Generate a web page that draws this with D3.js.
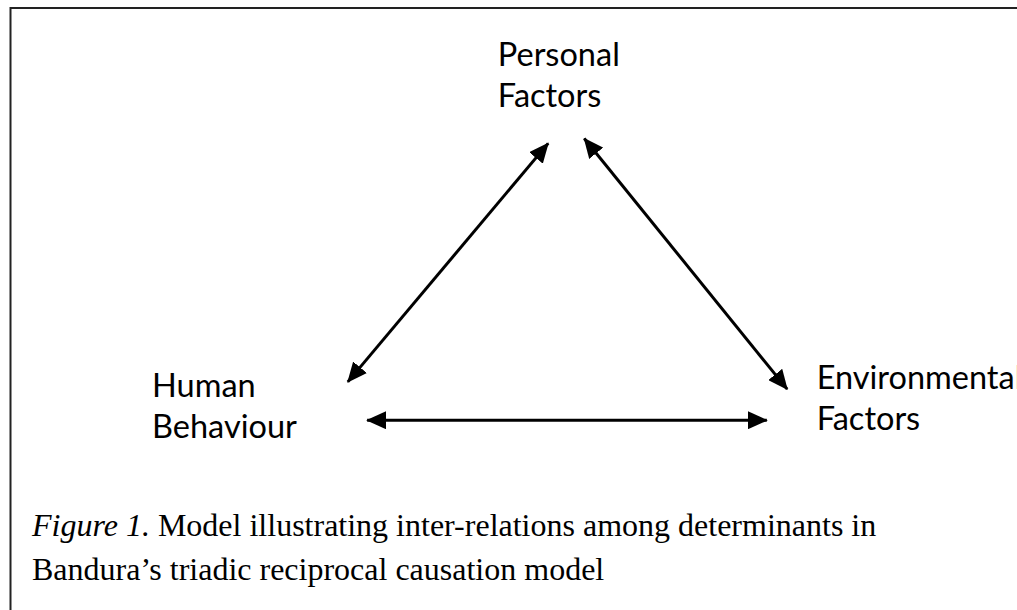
<!DOCTYPE html>
<html>
<head>
<meta charset="utf-8">
<script src="https://cdn.jsdelivr.net/npm/d3@7"></script>
<style>
  html, body { margin: 0; padding: 0; background: #fff; }
  svg { display: block; }
</style>
</head>
<body>
<div id="chart"></div>
<script>
// determinants of the triadic model (label lines)
var nodeNames = ["personal", "behaviour", "environment"];
var nodeLabels = [["Personal", "Factors"], ["Human", "Behaviour"], ["Environmental", "Factors"]];

// reciprocal links between the determinants
var linkSource = ["personal", "personal", "behaviour"];
var linkTarget = ["behaviour", "environment", "environment"];

// caption lines
var captionItalic = "Figure 1.";
var captionLines = [" Model illustrating inter-relations among determinants in",
                    "Bandura\u2019s triadic reciprocal causation model"];

var width = 1017, height = 610;

// layout, in diagram units (0..100)
var x = d3.scaleLinear().domain([0, 100]).range([0, width]);
var y = d3.scaleLinear().domain([0, 100]).range([0, height]);

var labelPos = {
  personal:    {x: 48.95, y: 10.8},
  behaviour:   {x: 14.95, y: 65.1},
  environment: {x: 80.3,  y: 63.8}
};
// arrow end points near each determinant, per link end
var endPos = {
  "personal-behaviour":    [{x: 53.9, y: 23.5}, {x: 34.2, y: 62.6}],
  "personal-environment":  [{x: 57.45, y: 22.7}, {x: 77.4, y: 63.8}],
  "behaviour-environment": [{x: 36.1, y: 68.9}, {x: 75.4, y: 68.9}]
};

var svg = d3.select("#chart").append("svg")
    .attr("width", width).attr("height", height);

// frame (runs off the right and bottom edge)
svg.append("rect")
    .attr("x", 10.5).attr("y", 8)
    .attr("width", width + 20).attr("height", height + 20)
    .style("fill", "none").style("stroke", "#222").style("stroke-width", 2);

var defs = svg.append("defs");
["start", "end"].forEach(function(k){
  defs.append("marker")
      .attr("id", "arrow-" + k)
      .attr("markerUnits", "userSpaceOnUse")
      .attr("viewBox", "0 0 20 18")
      .attr("markerWidth", 20).attr("markerHeight", 18)
      .attr("refX", 19).attr("refY", 9)
      .attr("orient", k == "start" ? "auto-start-reverse" : "auto")
    .append("path")
      .attr("d", "M0,0 L20,9 L0,18 Z")
      .style("fill", "#000");
});

var links = linkSource.map(function(s, i){
  var key = s + "-" + linkTarget[i];
  return {source: s, target: linkTarget[i], a: endPos[key][0], b: endPos[key][1]};
});

svg.append("g").selectAll("line")
    .data(links)
    .enter().append("line")
      .attr("x1", function(d){ return x(d.a.x); })
      .attr("y1", function(d){ return y(d.a.y); })
      .attr("x2", function(d){ return x(d.b.x); })
      .attr("y2", function(d){ return y(d.b.y); })
      .attr("marker-start", "url(#arrow-start)")
      .attr("marker-end", "url(#arrow-end)")
      .style("stroke", "#000")
      .style("stroke-width", 3);

var nodes = nodeNames.map(function(n, i){
  return {name: n, lines: nodeLabels[i], pos: labelPos[n]};
});

var label = svg.append("g").selectAll("text")
    .data(nodes)
    .enter().append("text")
      .attr("x", function(d){ return x(d.pos.x); })
      .attr("y", function(d){ return y(d.pos.y); })
      .style("font-family", "Lato, 'Open Sans', sans-serif")
      .style("font-size", "32.5px")
      .style("fill", "#000");

label.selectAll("tspan")
    .data(function(d){ return d.lines.map(function(t){ return {t: t, x: x(d.pos.x)}; }); })
    .enter().append("tspan")
      .attr("x", function(d){ return d.x; })
      .attr("dy", function(d, i){ return i ? 41 : 0; })
      .text(function(d){ return d.t; });

// caption
var cap = svg.append("g")
    .style("font-family", "'Liberation Serif', 'Times New Roman', serif")
    .style("font-size", "32px")
    .style("fill", "#000");

var line1 = cap.append("text").attr("x", 32).attr("y", 536);
line1.append("tspan").style("font-style", "italic").text(captionItalic);
line1.append("tspan").text(captionLines[0]);
cap.append("text").attr("x", 32).attr("y", 580).text(captionLines[1]);
</script>
</body>
</html>
